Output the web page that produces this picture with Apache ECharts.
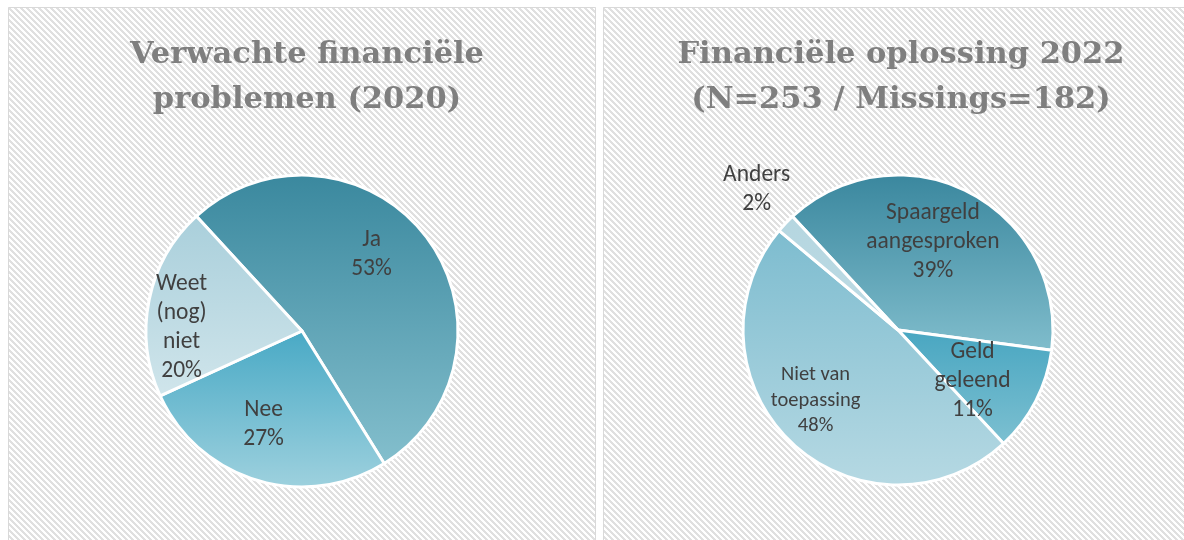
<!DOCTYPE html>
<html>
<head>
<meta charset="utf-8">
<script src="https://cdn.jsdelivr.net/npm/echarts@6/dist/echarts.min.js"></script>
<style>
  html, body { margin: 0; padding: 0; background: #fff; }
  #chart { width: 1184px; height: 540px; }
</style>
</head>
<body>
<div id="chart"></div>
<script>
  // 2020: verwachte financiele problemen
  const cats2020 = ['Ja', 'Nee', 'Weet\n(nog)\nniet'];
  const vals2020 = [53, 27, 20];
  // 2022: financiele oplossing
  const cats2022 = ['Spaargeld\naangesproken', 'Geld\ngeleend', 'Niet van\ntoepassing', 'Anders'];
  const vals2022 = [39, 11, 48, 2];

  const titles = ['Verwachte financiële\nproblemen (2020)', 'Financiële oplossing 2022\n(N=253 / Missings=182)'];

  // verticale verlopen per taartpunt [boven, onder]
  const colors2020 = [['#3a889e', '#84bfcd'], ['#48a9c5', '#9ed1de'], ['#a9cfdb', '#d0e5eb']];
  const colors2022 = [['#3a879e', '#80bdcc'], ['#48a6c1', '#7dc0d1'], ['#7dbccf', '#b6d9e3'], ['#b5d6e0', '#bddbe4']];
  // labelverschuiving t.o.v. standaard binnenpositie
  const offs2020 = [[5, -27], [-15, 16], [-41, 13]];
  const offs2022 = [[-2, -16], [3, 14], [-27, 12], [-83, -85]];

  // gestreept achtergrondpatroon
  const pat = document.createElement('canvas');
  pat.width = 6; pat.height = 6;
  const pctx = pat.getContext('2d');
  pctx.fillStyle = '#ffffff';
  pctx.fillRect(0, 0, 6, 6);
  pctx.fillStyle = '#e0e0e0';
  for (let y = 0; y < 6; y++) {
    for (let x = 0; x < 6; x++) {
      if ((((x - y) % 6) + 6) % 6 < 3) pctx.fillRect(x, y, 1, 1);
    }
  }

  function grad(c) {
    return new echarts.graphic.LinearGradient(0, 0, 0, 1, [
      { offset: 0, color: c[0] },
      { offset: 1, color: c[1] }
    ]);
  }

  function items(cats, vals, cols, offs, small) {
    return cats.map((name, i) => {
      const it = {
        name: name,
        value: vals[i],
        itemStyle: { color: grad(cols[i]) },
        label: { offset: offs[i] }
      };
      if (small === i) {
        it.label.fontSize = 20.5;
        it.label.lineHeight = 25.5;
      }
      return it;
    });
  }

  const labelStyle = {
    show: true,
    position: 'inside',
    formatter: '{b}\n{d}%',
    color: '#404040',
    fontFamily: 'Carlito, Calibri, Lato, sans-serif',
    fontSize: 23.5,
    lineHeight: 29
  };

  const titleStyle = {
    fontFamily: 'DejaVu Serif, serif',
    fontWeight: 'bold',
    fontSize: 30.5,
    lineHeight: 45,
    color: '#7f7f7f'
  };

  const chart = echarts.init(document.getElementById('chart'));
  const option = {
    animation: false,
    backgroundColor: '#ffffff',
    graphic: [
      {
        type: 'rect', z: -10,
        shape: { x: 8.5, y: 7.5, width: 587, height: 560 },
        style: { fill: { image: pat, repeat: 'repeat' }, stroke: '#d9d9d9', lineWidth: 1 }
      },
      {
        type: 'rect', z: -10,
        shape: { x: 603.5, y: 7.5, width: 600, height: 560 },
        style: { fill: { image: pat, repeat: 'repeat' }, stroke: '#d9d9d9', lineWidth: 1 }
      }
    ],
    title: [
      { text: titles[0], left: 302, top: 28, textAlign: 'center', textStyle: titleStyle },
      { text: titles[1], left: 896, top: 28, textAlign: 'center', textStyle: titleStyle }
    ],
    series: [
      {
        type: 'pie',
        center: [302, 331],
        radius: 156,
        startAngle: 132.6,
        itemStyle: { borderColor: '#ffffff', borderWidth: 3 },
        label: labelStyle,
        labelLine: { show: false },
        data: items(cats2020, vals2020, colors2020, offs2020, -1)
      },
      {
        type: 'pie',
        center: [898, 330],
        radius: 155,
        startAngle: 132.9,
        itemStyle: { borderColor: '#ffffff', borderWidth: 3 },
        label: labelStyle,
        labelLine: { show: false },
        data: items(cats2022, vals2022, colors2022, offs2022, 2)
      }
    ]
  };
  chart.setOption(option);
  window.addEventListener('resize', function () {
    chart.resize();
  });
</script>
</body>
</html>
